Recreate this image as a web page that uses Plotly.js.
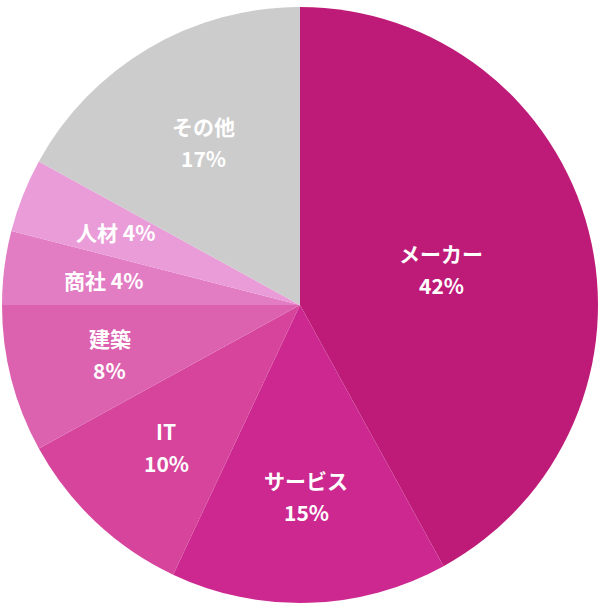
<!DOCTYPE html>
<html>
<head>
<meta charset="utf-8">
<script src="https://cdn.plot.ly/plotly-3.0.1.min.js"></script>
<style>
  html, body { margin: 0; padding: 0; background: #fff; }
  #chart { width: 600px; height: 606px; }
</style>
</head>
<body>
<div id="chart"></div>
<script>
// 業種別内訳
var labels = ['メーカー', 'サービス', 'IT', '建築', '商社', '人材', 'その他'];
var values = [42, 15, 10, 8, 4, 4, 17];
var colors = ['#BE1B78', '#CC2890', '#D6449C', '#DC62B0', '#E27CC3', '#EA9CD8', '#CCCCCC'];
// 1行で表示するラベル
var oneLine = ['商社', '人材'];

var W = 600, H = 606;
var margin = { t: 6, r: 2, b: 2, l: 2 };
var plotW = W - margin.l - margin.r;
var plotH = H - margin.t - margin.b;
var R = Math.min(plotW, plotH) / 2;

var data = [{
  type: 'pie',
  labels: labels,
  values: values,
  textinfo: 'none',
  marker: {
    colors: colors,
    line: { width: 0 }
  },
  sort: false,
  direction: 'clockwise',
  rotation: 0,
  hoverinfo: 'label+percent'
}];

// ラベルは扇形の重心に置く
var total = values.reduce(function (a, b) { return a + b; }, 0);
var font = { family: 'Noto Sans CJK JP, sans-serif', size: 21, color: '#ffffff', weight: 'bold' };
var annotations = [];
var cum = 0;
labels.forEach(function (l, i) {
  var s = cum / total;
  cum += values[i];
  var e = cum / total;
  var mid = Math.PI * (s + e);
  var half = Math.PI * (e - s);
  var d = 2 * R * Math.sin(half) / (3 * half);
  var x = 0.5 + d * Math.sin(mid) / plotW;
  var y = 0.5 + d * Math.cos(mid) / plotH;
  var base = { x: x, y: y, xref: 'paper', yref: 'paper', showarrow: false,
               xanchor: 'center', yanchor: 'middle', font: font };
  if (oneLine.indexOf(l) >= 0) {
    annotations.push(Object.assign({}, base, { text: l + ' ' + values[i] + '%' }));
  } else {
    annotations.push(Object.assign({}, base, { text: l, yshift: 16 }));
    annotations.push(Object.assign({}, base, { text: values[i] + '%', yshift: -16 }));
  }
});

var layout = {
  showlegend: false,
  width: W,
  height: H,
  margin: margin,
  paper_bgcolor: '#ffffff',
  annotations: annotations
};

var config = {
  responsive: false,
  displayModeBar: false
};

Plotly.newPlot('chart', data, layout, config);
</script>
</body>
</html>
